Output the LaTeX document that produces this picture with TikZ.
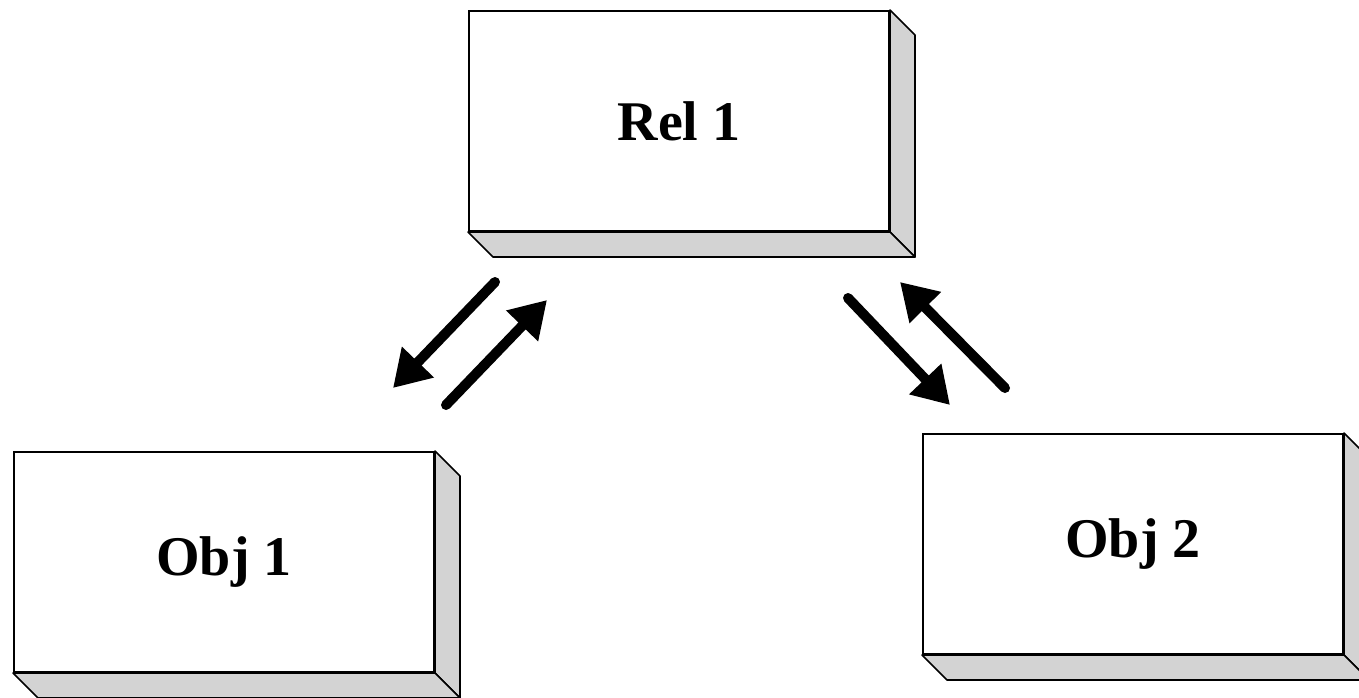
\documentclass[tikz,border=0pt]{standalone}
\usepackage{fontspec}
\setmainfont{Liberation Serif}
\usetikzlibrary{arrows.meta}
\definecolor{shade}{RGB}{211,211,211}
\tikzset{
  box/.style={draw=black, line width=2pt, fill=white, minimum width=420pt, minimum height=220pt, inner sep=0pt, font=\fontsize{56}{60}\selectfont\bfseries},
  edge/.style={draw=black, line width=1.6pt, fill=shade, line join=round},
  flow/.style={line width=10pt, line cap=round, -{Triangle[length=36pt,width=42pt]}}
}
\newcommand{\extrude}[1]{%
  \path[edge] (#1.north east) -- ++(25,25) -- ($(#1.south east)+(25,25)$) -- (#1.south east) -- cycle;
  \path[edge] (#1.south west) -- ++(25,25) -- ($(#1.south east)+(25,25)$) -- (#1.south east) -- cycle;
}
\usetikzlibrary{calc}
\begin{document}
\begin{tikzpicture}[x=1pt,y=-1pt]
\useasboundingbox (0,0) rectangle (1359,698);
\clip (0,0) rectangle (1359,698);
\node[box] (rel) at (679,121) {Rel 1};
\node[box] (obj1) at (224,562) {Obj 1};
\node[box] (obj2) at (1133,544) {Obj 2};
\extrude{rel}
\extrude{obj1}
\extrude{obj2}
\node[box] at (rel) {Rel 1};
\node[box] at (obj1) {Obj 1};
\node[box] at (obj2) {Obj 2};
\coordinate (a1s) at (495,282);
\coordinate (a1e) at (393,388);
\coordinate (a2s) at (446,405);
\coordinate (a2e) at (547,300);
\coordinate (a3s) at (848,298);
\coordinate (a3e) at (950,405);
\coordinate (a4s) at (1005,388);
\coordinate (a4e) at (900,282);
\draw[flow] (a1s) -- (a1e);
\draw[flow] (a2s) -- (a2e);
\draw[flow] (a3s) -- (a3e);
\draw[flow] (a4s) -- (a4e);
\end{tikzpicture}
\end{document}
